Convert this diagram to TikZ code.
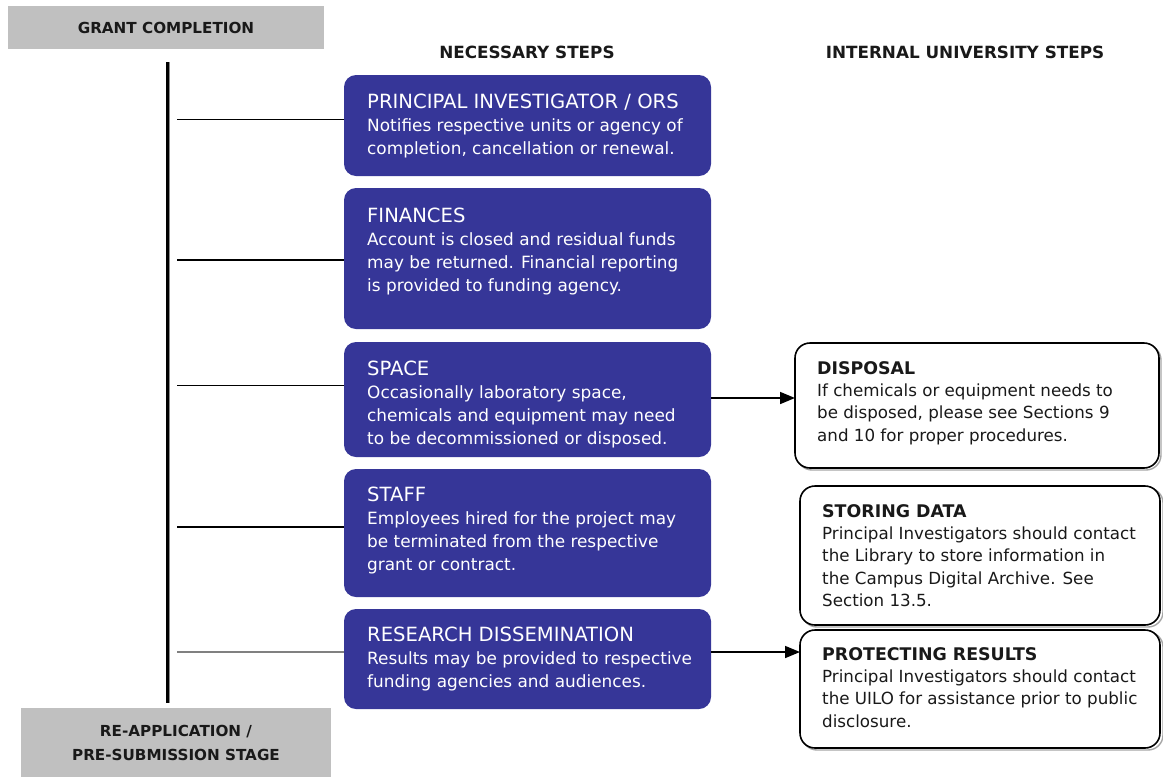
\documentclass[tikz,border=0pt]{standalone}
\usepackage{fontspec}
\setmainfont{DejaVu Sans}
\usetikzlibrary{arrows.meta}
\definecolor{navy}{RGB}{54,54,152}
\definecolor{greybox}{RGB}{192,192,192}
\definecolor{txt}{RGB}{25,25,25}
\begin{document}
\begin{tikzpicture}[x=1pt,y=-1pt,
  greyhdr/.style={fill=greybox,draw=none,inner sep=0pt,outer sep=0pt,anchor=north west,
    font=\fontsize{15.2}{24}\selectfont\bfseries,text=txt,align=center},
  colhdr/.style={inner sep=0pt,font=\fontsize{16.8}{18}\selectfont\bfseries,text=txt},
  bluebox/.style={fill=navy,draw=none,rounded corners=12pt,inner sep=0pt,outer sep=0pt,anchor=north west},
  whitebox/.style={fill=white,draw=black,line width=1.6pt,rounded corners=15pt,inner sep=0pt,outer sep=0pt,anchor=north west},
  boxshadow/.style={draw=black!35,line width=1.4pt,rounded corners=15pt},
  btext/.style={anchor=north west,inner sep=0pt,align=left,text=white,font=\fontsize{16.9}{23}\selectfont},
  wtext/.style={anchor=north west,inner sep=0pt,align=left,text=txt,font=\fontsize{16.7}{22.3}\selectfont},
  link/.style={draw=black,line width=1pt},
  arrowlink/.style={draw=black,line width=1.6pt,-{Triangle[length=15pt,width=12pt]}}
]
\useasboundingbox (0,0) rectangle (1163,777);

% headers
\node[greyhdr,minimum width=316pt,minimum height=43pt] (gc) at (8,6) {GRANT COMPLETION};
\node[greyhdr,minimum width=310pt,minimum height=69pt] (ra) at (21,708) {RE-APPLICATION /\\PRE-SUBMISSION STAGE};
\node[colhdr] (nh) at (527,52) {NECESSARY STEPS};
\node[colhdr] (ih) at (965,52) {INTERNAL UNIVERSITY STEPS};

% timeline
\coordinate (vtop) at (167,62);
\coordinate (vbot) at (167,703);
\draw[draw=black!45,line width=3pt] ([xshift=1.5pt]vtop) -- ([xshift=1.5pt]vbot);
\draw[draw=black,line width=3pt] (vtop) -- (vbot);

% blue boxes
\node[bluebox,minimum width=367pt,minimum height=101pt] (b1) at (344,75) {};
\node[bluebox,minimum width=367pt,minimum height=141pt] (b2) at (344,188) {};
\node[bluebox,minimum width=367pt,minimum height=115pt] (b3) at (344,342) {};
\node[bluebox,minimum width=367pt,minimum height=128pt] (b4) at (344,469) {};
\node[bluebox,minimum width=367pt,minimum height=100pt] (b5) at (344,609) {};

\node[btext] (t1) at (367,94) {{\fontsize{19.6}{23}\selectfont PRINCIPAL INVESTIGATOR / ORS}\\Notifies respective units or agency of\\completion, cancellation or renewal.};
\node[btext] (t2) at (367,208) {{\fontsize{19.6}{23}\selectfont FINANCES}\\Account is closed and residual funds\\may be returned. Financial reporting\\is provided to funding agency.};
\node[btext] (t3) at (367,361) {{\fontsize{19.6}{23}\selectfont SPACE}\\Occasionally laboratory space,\\chemicals and equipment may need\\to be decommissioned or disposed.};
\node[btext] (t4) at (367,487) {{\fontsize{19.6}{23}\selectfont STAFF}\\Employees hired for the project may\\be terminated from the respective\\grant or contract.};
\node[btext] (t5) at (367,627) {{\fontsize{19.6}{23}\selectfont RESEARCH DISSEMINATION}\\Results may be provided to respective\\funding agencies and audiences.};

% connectors from timeline
\coordinate (l1) at (177,119);
\coordinate (l2) at (177,260);
\coordinate (l3) at (177,385);
\coordinate (l4) at (177,527);
\coordinate (l5) at (177,652);
\draw[link] (l1) -- (l1 -| b1.west);
\draw[link,line width=1.6pt] (l2) -- (l2 -| b2.west);
\draw[link] (l3) -- (l3 -| b3.west);
\draw[link,line width=1.6pt] (l4) -- (l4 -| b4.west);
\draw[link,draw=black!50,line width=1.6pt] (l5) -- (l5 -| b5.west);

% white boxes
\draw[boxshadow] (797,345) rectangle (1161,470);
\node[whitebox,minimum width=364pt,minimum height=125pt] (d) at (795,343) {};
\draw[boxshadow] (802,488) rectangle (1163,627);
\node[whitebox,minimum width=360pt,minimum height=139pt] (s) at (800,486) {};
\draw[boxshadow] (802,632) rectangle (1163,750);
\node[whitebox,minimum width=360pt,minimum height=118pt] (p) at (800,630) {};

\node[wtext] (dt) at (817,361) {{\fontsize{17.4}{22.3}\selectfont\bfseries DISPOSAL}\\If chemicals or equipment needs to\\be disposed, please see Sections 9\\and 10 for proper procedures.};
\node[wtext] (st) at (822,504) {{\fontsize{17.4}{22.3}\selectfont\bfseries STORING DATA}\\Principal Investigators should contact\\the Library to store information in\\the Campus Digital Archive. See\\Section 13.5.};
\node[wtext] (pt) at (822,647) {{\fontsize{17.4}{22.3}\selectfont\bfseries PROTECTING RESULTS}\\Principal Investigators should contact\\the UILO for assistance prior to public\\disclosure.};

% arrows
\coordinate (a1) at (711,398);
\coordinate (a2) at (711,652);
\draw[arrowlink] (a1) -- (a1 -| d.west);
\draw[arrowlink] (a2) -- (a2 -| p.west);
\end{tikzpicture}
\end{document}
